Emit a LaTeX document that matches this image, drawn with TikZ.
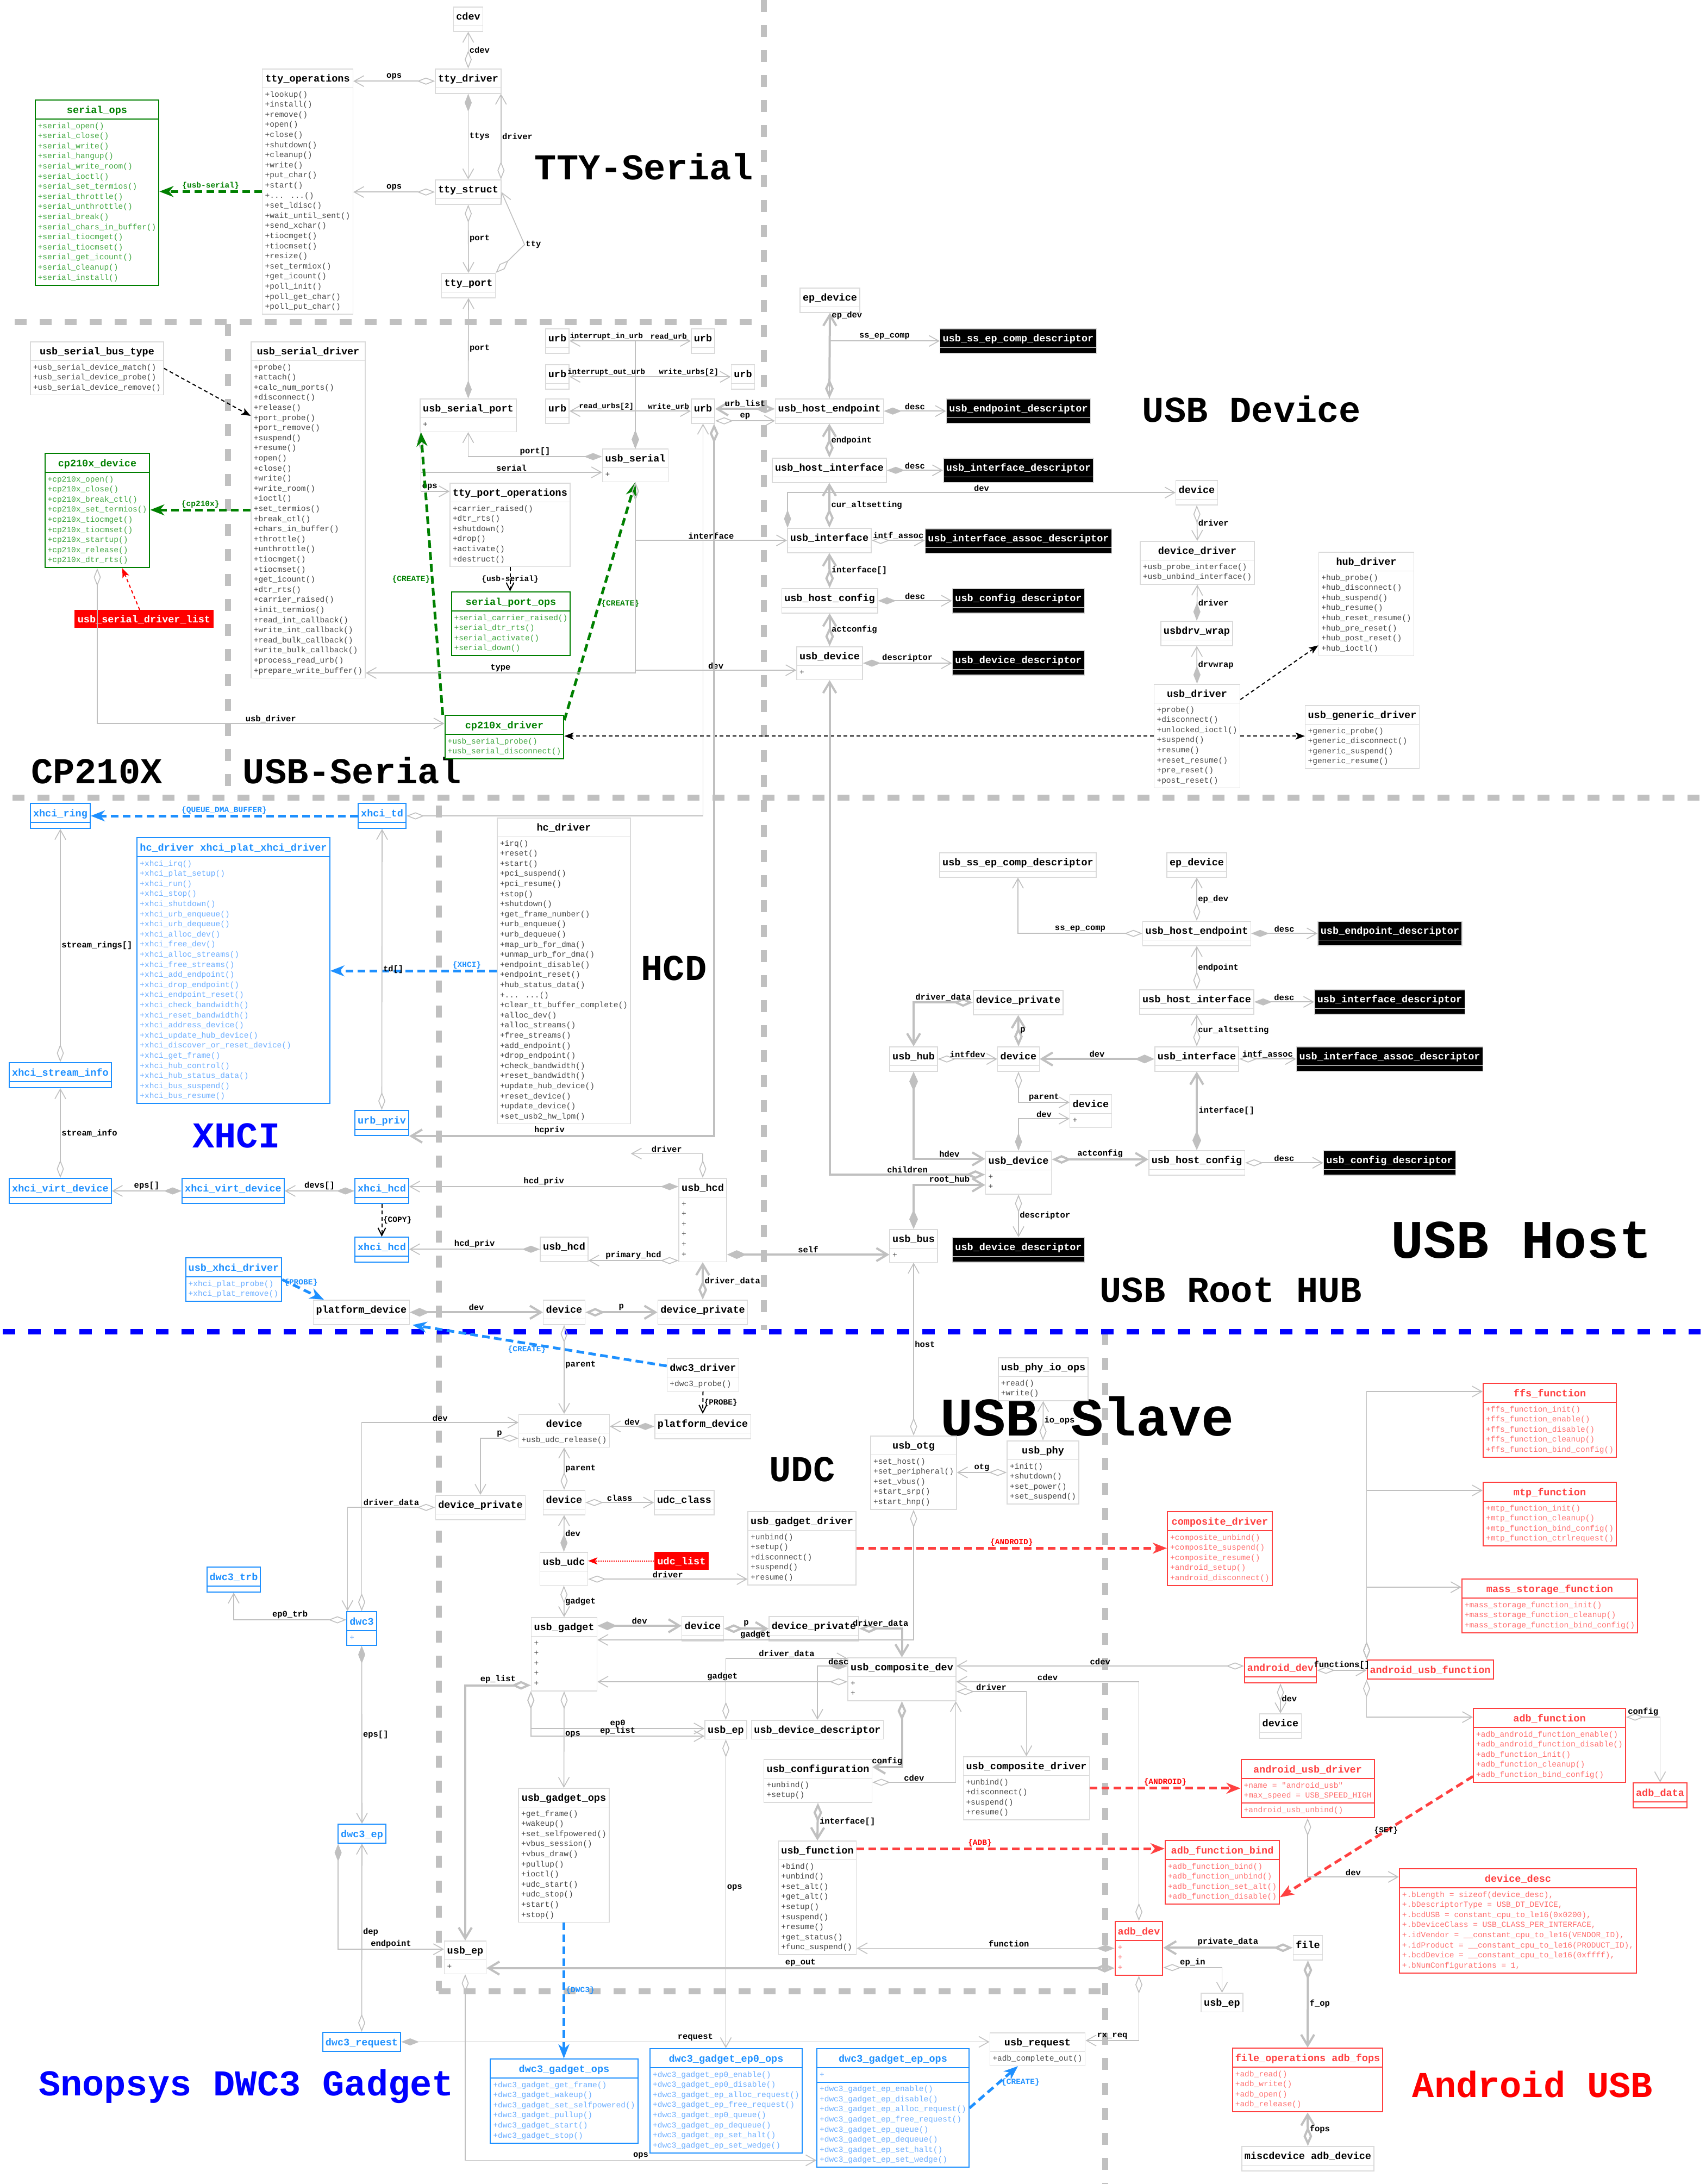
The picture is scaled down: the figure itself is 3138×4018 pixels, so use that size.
\documentclass[tikz,border=0pt]{standalone}
\usepackage{fontspec}
\usepackage{xcolor}
\usepackage{tikz}
\usetikzlibrary{shapes.multipart,arrows.meta,positioning}
\newfontfamily\cour{Liberation Mono}
\definecolor{edgec}{RGB}{192,192,192}
\definecolor{boxc}{RGB}{218,218,218}
\definecolor{memk}{RGB}{70,70,70}
\definecolor{grn}{RGB}{0,128,0}
\definecolor{memg}{RGB}{60,165,60}
\definecolor{dblue}{RGB}{30,144,255}
\definecolor{memb}{RGB}{110,175,255}
\definecolor{redc}{RGB}{255,64,64}
\definecolor{memr}{RGB}{255,110,110}
\newcommand{\ttl}[1]{{\fontsize{18.5}{22}\selectfont\bfseries\rule[-7pt]{0pt}{27pt}#1}}
\newcommand{\mem}[2][memk]{{\color{#1}\fontsize{14.5}{18.6}\selectfont\begin{tabular}{@{}l@{}}#2\end{tabular}}}
\newcommand{\emp}{\rule{0pt}{3pt}}
\tikzset{
  cls/.style={rectangle split, rectangle split parts=2, rectangle split part align={center,left}, draw=boxc, line width=1.5pt, fill=white, text=black, inner xsep=5pt, inner ysep=3pt, anchor=north, font=\cour},
  ttlonly/.style={rectangle split parts=1},
  threep/.style={rectangle split parts=3, rectangle split part align={center,left,left}},
  gbox/.style={draw=grn, text=grn, line width=2pt},
  bbox/.style={draw=dblue, text=dblue, line width=2pt},
  rbox/.style={draw=redc, text=redc, line width=2pt},
  dbox/.style={fill=black, text=white},
  rlist/.style={fill=red, text=white, anchor=north, inner xsep=6pt, inner ysep=3pt, font=\cour},
  lb/.style={font=\cour\bfseries\fontsize{15.5}{16}\selectfont, text=black, inner sep=1.5pt},
  lbs/.style={lb, font=\cour\bfseries\fontsize{14}{15}\selectfont},
  ster/.style={font=\cour\bfseries\fontsize{14.5}{15}\selectfont, text=black, inner sep=1.5pt},
  sterg/.style={ster, text=grn},
  sterb/.style={ster, text=dblue},
  sterr/.style={ster, text=red},
  bigttl/.style={font=\cour\bfseries\fontsize{67}{67}\selectfont, anchor=base, inner sep=0pt},
  hugettl/.style={bigttl, font=\cour\bfseries\fontsize{100}{100}\selectfont},
  ln/.style={draw=edgec, line width=1.6pt},
  tk/.style={draw=edgec, line width=4pt},
  ag/.style={ln, {Diamond[open,length=33pt,width=13pt]}-{Straight Barb[length=18pt,width=20pt]}},
  cp/.style={ln, {Diamond[length=33pt,width=13pt]}-{Straight Barb[length=18pt,width=20pt]}},
  agT/.style={tk, {Diamond[open,length=36pt,width=16pt]}-{Straight Barb[length=20pt,width=24pt]}},
  cpT/.style={tk, {Diamond[length=36pt,width=16pt]}-{Straight Barb[length=20pt,width=24pt]}},
  asc/.style={ln, -{Straight Barb[length=18pt,width=20pt]}},
  gdep/.style={draw=grn, line width=5pt, dash pattern=on 14pt off 8pt, -{Stealth[length=26pt,width=20pt,inset=8pt]}},
  bdep/.style={draw=dblue, line width=5pt, dash pattern=on 14pt off 8pt, -{Stealth[length=26pt,width=20pt,inset=8pt]}},
  rdep/.style={draw=redc, line width=5pt, dash pattern=on 14pt off 8pt, -{Stealth[length=26pt,width=20pt,inset=8pt]}},
  kdep/.style={draw=black, line width=2pt, dash pattern=on 7pt off 5pt, -{Stealth[length=17pt,width=13pt,inset=4pt]}},
  kdepv/.style={draw=black, line width=2pt, dash pattern=on 7pt off 5pt, -{Straight Barb[length=14pt,width=14pt]}},
  rthin/.style={draw=red, line width=2pt, dash pattern=on 6pt off 5pt, -{Stealth[length=17pt,width=13pt,inset=4pt]}},
  rdot/.style={draw=red, line width=2pt, dash pattern=on 2pt off 2pt, -{Stealth[length=17pt,width=13pt,inset=4pt]}},
  sepl/.style={draw=edgec, line width=11pt, dash pattern=on 22pt off 24pt},
  bsepl/.style={draw=blue, line width=10pt, dash pattern=on 23pt off 24pt}
}
\begin{document}
\catcode`\_=12
\begin{tikzpicture}[x=1pt,y=-1pt]
\useasboundingbox (0,0) rectangle (3138,4018);
\fill[white] (0,0) rectangle (3138,4018);

\draw[sepl] (27,592) -- (1403,592);
\draw[sepl] (1405,0) -- (1405,2447);
\draw[sepl] (419,596) -- (419,1460);
\draw[sepl] (23,1467) -- (3129,1467);
\draw[sepl] (807,1482) -- (807,3663);
\draw[sepl] (807,3663) -- (2026,3663);
\draw[sepl] (2033,2452) -- (2033,4018);
\draw[bsepl] (5,2450) -- (3129,2450);

\node[bigttl] (tttl) at (1185,330) {TTY-Serial};
\node[bigttl] (devttl) at (2303,776) {USB Device};
\node[bigttl] (cpttl) at (178,1441) {CP210X};
\node[bigttl] (usttl) at (648,1441) {USB-Serial};
\node[bigttl] (hcdttl) at (1240,1803) {HCD};
\node[bigttl, text=blue] (xttl) at (435,2111) {XHCI};
\node[hugettl] (hostttl) at (2800,2314) {USB Host};
\node[bigttl] (hubttl) at (2265,2395) {USB Root HUB};
\node[hugettl] (slvttl) at (2001,2641) {USB Slave};
\node[bigttl] (udcttl) at (1476,2725) {UDC};
\node[bigttl, text=blue] (dwcttl) at (453,3855) {Snopsys DWC3 Gadget};
\node[bigttl, text=red] (andttl) at (2820,3858) {Android USB};

\node[cls] (cdev) at (861.5,12) {\ttl{cdev}\nodepart{two}\emp};
\node[cls] (ttydrv) at (861.5,126) {\ttl{tty_driver}\nodepart{two}\emp};
\node[cls] (ttyops) at (566,126) {\ttl{tty_operations}\nodepart{two}\mem{+lookup()\\+install()\\+remove()\\+open()\\+close()\\+shutdown()\\+cleanup()\\+write()\\+put_char()\\+start()\\+... ...()\\+set_ldisc()\\+wait_until_sent()\\+send_xchar()\\+tiocmget()\\+tiocmset()\\+resize()\\+set_termiox()\\+get_icount()\\+poll_init()\\+poll_get_char()\\+poll_put_char()}};
\node[cls,gbox] (serops) at (178.5,183) {\ttl{serial_ops}\nodepart{two}\mem[memg]{+serial_open()\\+serial_close()\\+serial_write()\\+serial_hangup()\\+serial_write_room()\\+serial_ioctl()\\+serial_set_termios()\\+serial_throttle()\\+serial_unthrottle()\\+serial_break()\\+serial_chars_in_buffer()\\+serial_tiocmget()\\+serial_tiocmset()\\+serial_get_icount()\\+serial_cleanup()\\+serial_install()}};
\node[cls] (ttystr) at (861.5,330) {\ttl{tty_struct}\nodepart{two}\emp};
\node[cls] (ttyport) at (862,502) {\ttl{tty_port}\nodepart{two}\emp};
\node[cls] (busty) at (178.5,628) {\ttl{usb_serial_bus_type}\nodepart{two}\mem{+usb_serial_device_match()\\+usb_serial_device_probe()\\+usb_serial_device_remove()}};
\node[cls] (usdrv) at (567,628) {\ttl{usb_serial_driver}\nodepart{two}\mem{+probe()\\+attach()\\+calc_num_ports()\\+disconnect()\\+release()\\+port_probe()\\+port_remove()\\+suspend()\\+resume()\\+open()\\+close()\\+write()\\+write_room()\\+ioctl()\\+set_termios()\\+break_ctl()\\+chars_in_buffer()\\+throttle()\\+unthrottle()\\+tiocmget()\\+tiocmset()\\+get_icount()\\+dtr_rts()\\+carrier_raised()\\+init_termios()\\+read_int_callback()\\+write_int_callback()\\+read_bulk_callback()\\+write_bulk_callback()\\+process_read_urb()\\+prepare_write_buffer()}};
\node[cls] (usport) at (861.5,733) {\ttl{usb_serial_port}\nodepart{two}\mem{+}};
\node[cls] (tpops) at (938.5,888) {\ttl{tty_port_operations}\nodepart{two}\mem{+carrier_raised()\\+dtr_rts()\\+shutdown()\\+drop()\\+activate()\\+destruct()}};
\node[cls,gbox] (spops) at (940,1088) {\ttl{serial_port_ops}\nodepart{two}\mem[memg]{+serial_carrier_raised()\\+serial_dtr_rts()\\+serial_activate()\\+serial_down()}};
\node[cls,gbox] (cpdev) at (179,833) {\ttl{cp210x_device}\nodepart{two}\mem[memg]{+cp210x_open()\\+cp210x_close()\\+cp210x_break_ctl()\\+cp210x_set_termios()\\+cp210x_tiocmget()\\+cp210x_tiocmset()\\+cp210x_startup()\\+cp210x_release()\\+cp210x_dtr_rts()}};
\node[rlist] (sdlist) at (265,1122) {\ttl{usb_serial_driver_list}};
\node[cls,gbox] (cpdrv) at (928,1315) {\ttl{cp210x_driver}\nodepart{two}\mem[memg]{+usb_serial_probe()\\+usb_serial_disconnect()}};
\node[cls] (userial) at (1169,825) {\ttl{usb_serial}\nodepart{two}\mem{+}};
\node[cls] (urbL1) at (1025.5,604) {\ttl{urb}\nodepart{two}\emp};
\node[cls] (urbL2) at (1025.5,670) {\ttl{urb}\nodepart{two}\emp};
\node[cls] (urbL3) at (1025.5,733) {\ttl{urb}\nodepart{two}\emp};
\node[cls] (urbA) at (1293.5,604) {\ttl{urb}\nodepart{two}\emp};
\node[cls] (urbB) at (1367,670) {\ttl{urb}\nodepart{two}\emp};
\node[cls] (urbC) at (1293.5,733) {\ttl{urb}\nodepart{two}\emp};

\node[cls] (epdevD) at (1527,529) {\ttl{ep_device}\nodepart{two}\emp};
\node[cls,dbox] (sscD) at (1873.5,604) {\ttl{usb_ss_ep_comp_descriptor}\nodepart{two}\emp};
\node[cls] (hepD) at (1526,733) {\ttl{usb_host_endpoint}\nodepart{two}\emp};
\node[cls,dbox] (epdD) at (1874,733) {\ttl{usb_endpoint_descriptor}\nodepart{two}\emp};
\node[cls] (hifD) at (1526,842) {\ttl{usb_host_interface}\nodepart{two}\emp};
\node[cls,dbox] (ifdD) at (1874,842) {\ttl{usb_interface_descriptor}\nodepart{two}\emp};
\node[cls] (devD) at (2202,883) {\ttl{device}\nodepart{two}\emp};
\node[cls] (ifD) at (1526,971) {\ttl{usb_interface}\nodepart{two}\emp};
\node[cls,dbox] (iadD) at (1874,972) {\ttl{usb_interface_assoc_descriptor}\nodepart{two}\emp};
\node[cls] (ddrv) at (2203,995) {\ttl{device_driver}\nodepart{two}\mem{+usb_probe_interface()\\+usb_unbind_interface()}};
\node[cls] (hcfgD) at (1526.5,1082) {\ttl{usb_host_config}\nodepart{two}\emp};
\node[cls,dbox] (cfgdD) at (1874,1082) {\ttl{usb_config_descriptor}\nodepart{two}\emp};
\node[cls] (hubdrv) at (2514,1015) {\ttl{hub_driver}\nodepart{two}\mem{+hub_probe()\\+hub_disconnect()\\+hub_suspend()\\+hub_resume()\\+hub_reset_resume()\\+hub_pre_reset()\\+hub_post_reset()\\+hub_ioctl()}};
\node[cls] (wrap) at (2202,1142) {\ttl{usbdrv_wrap}\nodepart{two}\emp};
\node[cls] (udevD) at (1526.5,1189) {\ttl{usb_device}\nodepart{two}\mem{+}};
\node[cls,dbox] (devdD) at (1874,1196) {\ttl{usb_device_descriptor}\nodepart{two}\emp};
\node[cls] (udrv) at (2202.5,1258) {\ttl{usb_driver}\nodepart{two}\mem{+probe()\\+disconnect()\\+unlocked_ioctl()\\+suspend()\\+resume()\\+reset_resume()\\+pre_reset()\\+post_reset()}};
\node[cls] (gendrv) at (2506.5,1297) {\ttl{usb_generic_driver}\nodepart{two}\mem{+generic_probe()\\+generic_disconnect()\\+generic_suspend()\\+generic_resume()}};

\node[cls,bbox] (xring) at (111,1477) {\ttl{xhci_ring}\nodepart{two}\emp};
\node[cls,bbox] (xtd) at (703,1477) {\ttl{xhci_td}\nodepart{two}\emp};
\node[cls,bbox] (xplat) at (429.5,1540) {\ttl{hc_driver xhci_plat_xhci_driver}\nodepart{two}\mem[memb]{+xhci_irq()\\+xhci_plat_setup()\\+xhci_run()\\+xhci_stop()\\+xhci_shutdown()\\+xhci_urb_enqueue()\\+xhci_urb_dequeue()\\+xhci_alloc_dev()\\+xhci_free_dev()\\+xhci_alloc_streams()\\+xhci_free_streams()\\+xhci_add_endpoint()\\+xhci_drop_endpoint()\\+xhci_endpoint_reset()\\+xhci_check_bandwidth()\\+xhci_reset_bandwidth()\\+xhci_address_device()\\+xhci_update_hub_device()\\+xhci_discover_or_reset_device()\\+xhci_get_frame()\\+xhci_hub_control()\\+xhci_hub_status_data()\\+xhci_bus_suspend()\\+xhci_bus_resume()}};
\node[cls] (hcdrv) at (1037.5,1504) {\ttl{hc_driver}\nodepart{two}\mem{+irq()\\+reset()\\+start()\\+pci_suspend()\\+pci_resume()\\+stop()\\+shutdown()\\+get_frame_number()\\+urb_enqueue()\\+urb_dequeue()\\+map_urb_for_dma()\\+unmap_urb_for_dma()\\+endpoint_disable()\\+endpoint_reset()\\+hub_status_data()\\+... ...()\\+clear_tt_buffer_complete()\\+alloc_dev()\\+alloc_streams()\\+free_streams()\\+add_endpoint()\\+drop_endpoint()\\+check_bandwidth()\\+reset_bandwidth()\\+update_hub_device()\\+reset_device()\\+update_device()\\+set_usb2_hw_lpm()}};
\node[cls,bbox] (xsinfo) at (111,1954) {\ttl{xhci_stream_info}\nodepart{two}\emp};
\node[cls,bbox] (urbpriv) at (702.5,2042) {\ttl{urb_priv}\nodepart{two}\emp};
\node[cls,bbox] (xvdev1) at (111,2167) {\ttl{xhci_virt_device}\nodepart{two}\emp};
\node[cls,bbox] (xvdev2) at (429,2167) {\ttl{xhci_virt_device}\nodepart{two}\emp};
\node[cls,bbox] (xhcd1) at (702.5,2167) {\ttl{xhci_hcd}\nodepart{two}\emp};
\node[cls,bbox] (xhcd2) at (702.5,2275) {\ttl{xhci_hcd}\nodepart{two}\emp};
\node[cls] (uhcd) at (1293,2167) {\ttl{usb_hcd}\nodepart{two}\mem{+\\+\\+\\+\\+\\+}};
\node[cls] (uhcd2) at (1038,2275) {\ttl{usb_hcd}\nodepart{two}\emp};
\node[cls,bbox] (uxdrv) at (430,2313) {\ttl{usb_xhci_driver}\nodepart{two}\mem[memb]{+xhci_plat_probe()\\+xhci_plat_remove()}};
\node[cls] (pdevH) at (665,2391) {\ttl{platform_device}\nodepart{two}\emp};
\node[cls] (devH) at (1038,2391) {\ttl{device}\nodepart{two}\emp};
\node[cls] (dprivH) at (1293,2391) {\ttl{device_private}\nodepart{two}\emp};

\node[cls] (sscH) at (1873,1568) {\ttl{usb_ss_ep_comp_descriptor}\nodepart{two}\emp};
\node[cls] (epdevH) at (2202,1568) {\ttl{ep_device}\nodepart{two}\emp};
\node[cls] (hepH) at (2202,1694) {\ttl{usb_host_endpoint}\nodepart{two}\emp};
\node[cls,dbox] (epdH) at (2557.5,1694) {\ttl{usb_endpoint_descriptor}\nodepart{two}\emp};
\node[cls] (dprivR) at (1873.5,1821) {\ttl{device_private}\nodepart{two}\emp};
\node[cls] (hifH) at (2202,1820) {\ttl{usb_host_interface}\nodepart{two}\emp};
\node[cls,dbox] (ifdH) at (2557,1820) {\ttl{usb_interface_descriptor}\nodepart{two}\emp};
\node[cls] (uhub) at (1681,1925) {\ttl{usb_hub}\nodepart{two}\emp};
\node[cls] (devR) at (1874,1925) {\ttl{device}\nodepart{two}\emp};
\node[cls] (ifH) at (2202,1925) {\ttl{usb_interface}\nodepart{two}\emp};
\node[cls,dbox] (iadH) at (2557,1925) {\ttl{usb_interface_assoc_descriptor}\nodepart{two}\emp};
\node[cls] (devS) at (2007,2013) {\ttl{device}\nodepart{two}\mem{+}};
\node[cls] (udevH) at (1874,2117) {\ttl{usb_device}\nodepart{two}\mem{+\\+}};
\node[cls] (hcfgH) at (2202,2116) {\ttl{usb_host_config}\nodepart{two}\emp};
\node[cls,dbox] (cfgdH) at (2557,2116) {\ttl{usb_config_descriptor}\nodepart{two}\emp};
\node[cls] (ubus) at (1681,2261) {\ttl{usb_bus}\nodepart{two}\mem{+}};
\node[cls,dbox] (devdH) at (1874,2276) {\ttl{usb_device_descriptor}\nodepart{two}\emp};

\node[cls] (dwcdrv) at (1293.5,2498) {\ttl{dwc3_driver}\nodepart{two}\mem{+dwc3_probe()}};
\node[cls] (devU) at (1038,2601) {\ttl{device}\nodepart{two}\mem{+usb_udc_release()}};
\node[cls] (pdevU) at (1293,2601) {\ttl{platform_device}\nodepart{two}\emp};
\node[cls] (phyio) at (1919.5,2497) {\ttl{usb_phy_io_ops}\nodepart{two}\mem{+read()\\+write()}};
\node[cls] (uotg) at (1681,2641) {\ttl{usb_otg}\nodepart{two}\mem{+set_host()\\+set_peripheral()\\+set_vbus()\\+start_srp()\\+start_hnp()}};
\node[cls] (uphy) at (1919,2650) {\ttl{usb_phy}\nodepart{two}\mem{+init()\\+shutdown()\\+set_power()\\+set_suspend()}};
\node[cls] (devC) at (1038,2741) {\ttl{device}\nodepart{two}\emp};
\node[cls] (udccls) at (1259,2741) {\ttl{udc_class}\nodepart{two}\emp};
\node[cls] (dprivU) at (884,2750) {\ttl{device_private}\nodepart{two}\emp};
\node[cls] (gdrv) at (1475.5,2780) {\ttl{usb_gadget_driver}\nodepart{two}\mem{+unbind()\\+setup()\\+disconnect()\\+suspend()\\+resume()}};
\node[cls,rbox] (compdrv) at (2244.5,2780) {\ttl{composite_driver}\nodepart{two}\mem[memr]{+composite_unbind()\\+composite_suspend()\\+composite_resume()\\+android_setup()\\+android_disconnect()}};
\node[cls] (uudc) at (1037.5,2855) {\ttl{usb_udc}\nodepart{two}\mem{~}};
\node[rlist] (udclist) at (1254,2855) {\ttl{udc_list}};
\node[cls,bbox] (dtrb) at (430,2882) {\ttl{dwc3_trb}\nodepart{two}\emp};
\node[cls,bbox] (dwc) at (665.5,2964) {\ttl{dwc3}\nodepart{two}\mem[memb]{+}};
\node[cls] (ugad) at (1038,2975) {\ttl{usb_gadget}\nodepart{two}\mem{+\\+\\+\\+\\+}};
\node[cls] (devG) at (1293,2973) {\ttl{device}\nodepart{two}\emp};
\node[cls] (dprivG) at (1497.5,2973) {\ttl{device_private}\nodepart{two}\emp};
\node[cls] (ucdev) at (1659.5,3049) {\ttl{usb_composite_dev}\nodepart{two}\mem{+\\+}};
\node[cls,rbox] (adev) at (2356,3049) {\ttl{android_dev}\nodepart{two}\emp};
\node[cls,rbox,ttlonly] (aufn) at (2631.5,3053) {\ttl{android_usb_function}};
\node[cls,rbox] (ffs) at (2851.5,2544) {\ttl{ffs_function}\nodepart{two}\mem[memr]{+ffs_function_init()\\+ffs_function_enable()\\+ffs_function_disable()\\+ffs_function_cleanup()\\+ffs_function_bind_config()}};
\node[cls,rbox] (mtp) at (2851.5,2726) {\ttl{mtp_function}\nodepart{two}\mem[memr]{+mtp_function_init()\\+mtp_function_cleanup()\\+mtp_function_bind_config()\\+mtp_function_ctrlrequest()}};
\node[cls,rbox] (msf) at (2851.5,2904) {\ttl{mass_storage_function}\nodepart{two}\mem[memr]{+mass_storage_function_init()\\+mass_storage_function_cleanup()\\+mass_storage_function_bind_config()}};
\node[cls] (devA) at (2356,3152) {\ttl{device}\nodepart{two}\emp};
\node[cls,rbox] (adbfn) at (2851,3142) {\ttl{adb_function}\nodepart{two}\mem[memr]{+adb_android_function_enable()\\+adb_android_function_disable()\\+adb_function_init()\\+adb_function_cleanup()\\+adb_function_bind_config()}};
\node[cls,rbox] (adbdata) at (3054.5,3279) {\ttl{adb_data}\nodepart{two}\emp};
\node[cls,ttlonly] (uepG) at (1335.5,3164) {\ttl{usb_ep}};
\node[cls,ttlonly] (devdG) at (1504,3164) {\ttl{usb_device_descriptor}};
\node[cls] (ucfg) at (1505,3236) {\ttl{usb_configuration}\nodepart{two}\mem{+unbind()\\+setup()}};
\node[cls] (ucdrv) at (1888.5,3231) {\ttl{usb_composite_driver}\nodepart{two}\mem{+unbind()\\+disconnect()\\+suspend()\\+resume()}};
\node[cls,rbox,threep] (audrv) at (2406,3236) {\ttl{android_usb_driver}\nodepart{two}\mem[memr]{+name = "android_usb"\\+max_speed = USB_SPEED_HIGH}\nodepart{three}\mem[memr]{+android_usb_unbind()}};
\node[cls] (gops) at (1037.5,3289) {\ttl{usb_gadget_ops}\nodepart{two}\mem{+get_frame()\\+wakeup()\\+set_selfpowered()\\+vbus_session()\\+vbus_draw()\\+pullup()\\+ioctl()\\+udc_start()\\+udc_stop()\\+start()\\+stop()}};
\node[cls,bbox,ttlonly] (dep) at (666,3355) {\ttl{dwc3_ep}};
\node[cls] (ufn) at (1504,3386) {\ttl{usb_function}\nodepart{two}\mem{+bind()\\+unbind()\\+set_alt()\\+get_alt()\\+setup()\\+suspend()\\+resume()\\+get_status()\\+func_suspend()}};
\node[cls,rbox] (afbind) at (2249,3385) {\ttl{adb_function_bind}\nodepart{two}\mem[memr]{+adb_function_bind()\\+adb_function_unbind()\\+adb_function_set_alt()\\+adb_function_disable()}};
\node[cls,rbox] (ddesc) at (2793,3437) {\ttl{device_desc}\nodepart{two}\mem[memr]{+.bLength = sizeof(device_desc),\\+.bDescriptorType = USB_DT_DEVICE,\\+.bcdUSB = constant_cpu_to_le16(0x0200),\\+.bDeviceClass = USB_CLASS_PER_INTERFACE,\\+.idVendor = __constant_cpu_to_le16(VENDOR_ID),\\+.idProduct = __constant_cpu_to_le16(PRODUCT_ID),\\+.bcdDevice = __constant_cpu_to_le16(0xffff),\\+.bNumConfigurations = 1,}};
\node[cls,rbox] (adbdev) at (2095.5,3534) {\ttl{adb_dev}\nodepart{two}\mem[memr]{+\\+\\+}};
\node[cls] (file) at (2406.5,3560) {\ttl{file}\nodepart{two}\emp};
\node[cls] (uep) at (856,3570) {\ttl{usb_ep}\nodepart{two}\mem{+}};
\node[cls,ttlonly] (uepA) at (2248.5,3666) {\ttl{usb_ep}};
\node[cls,bbox,ttlonly] (dreq) at (665.5,3738) {\ttl{dwc3_request}};
\node[cls] (ureq) at (1909,3739) {\ttl{usb_request}\nodepart{two}\mem{+adb_complete_out()}};
\node[cls,rbox] (fops) at (2406,3767) {\ttl{file_operations adb_fops}\nodepart{two}\mem[memr]{+adb_read()\\+adb_write()\\+adb_open()\\+adb_release()}};
\node[cls,bbox] (dgops) at (1038,3787) {\ttl{dwc3_gadget_ops}\nodepart{two}\mem[memb]{+dwc3_gadget_get_frame()\\+dwc3_gadget_wakeup()\\+dwc3_gadget_set_selfpowered()\\+dwc3_gadget_pullup()\\+dwc3_gadget_start()\\+dwc3_gadget_stop()}};
\node[cls,bbox] (dep0ops) at (1336,3768) {\ttl{dwc3_gadget_ep0_ops}\nodepart{two}\mem[memb]{+dwc3_gadget_ep0_enable()\\+dwc3_gadget_ep0_disable()\\+dwc3_gadget_ep_alloc_request()\\+dwc3_gadget_ep_free_request()\\+dwc3_gadget_ep0_queue()\\+dwc3_gadget_ep_dequeue()\\+dwc3_gadget_ep_set_halt()\\+dwc3_gadget_ep_set_wedge()}};
\node[cls,bbox,threep] (depops) at (1643,3768) {\ttl{dwc3_gadget_ep_ops}\nodepart{two}\mem[memb]{+}\nodepart{three}\mem[memb]{+dwc3_gadget_ep_enable()\\+dwc3_gadget_ep_disable()\\+dwc3_gadget_ep_alloc_request()\\+dwc3_gadget_ep_free_request()\\+dwc3_gadget_ep_queue()\\+dwc3_gadget_ep_dequeue()\\+dwc3_gadget_ep_set_halt()\\+dwc3_gadget_ep_set_wedge()}};
\node[cls] (misc) at (2406.5,3948) {\ttl{miscdevice adb_device}\nodepart{two}\emp};

\draw[ag] (ttydrv.north) -- (cdev.south) node[lb,right,midway] {cdev};
\draw[ag] (ttydrv.west) -- (ttydrv.west -| ttyops.east) node[lb,above,midway] {ops};
\draw[ag] (ttystr.west) -- (ttystr.west -| ttyops.east) node[lb,above,midway] {ops};
\draw[cp] (ttydrv.south) -- (ttystr.north) node[lb,right,midway] {ttys};
\draw[ag] ([xshift=-1pt]ttystr.north east) -- ([xshift=-1pt]ttydrv.south east) node[lb,right,midway] {driver};
\draw[ag] (ttystr.south) -- (ttyport.north) node[lb,right,midway] {port};
\draw[ag] (ttyport.north east) -- ++(53,-52) node[lb,right] {tty} -- (ttystr.east);
\draw[gdep] (ttyops.west) -- (ttyops.west -| serops.east) node[sterg,above,midway] {\{usb-serial\}};

\draw[kdep] (busty.east) -- ([yshift=-137pt]usdrv.north west);
\draw[gdep] (usdrv.west) -- (usdrv.west -| cpdev.east) node[sterg,above,midway] {\{cp210x\}};
\draw[cp] (usport.north) -- (ttyport.south) node[lb,right,midway] {port};
\draw[cp] ([yshift=-15pt]userial.north west) -| (usport.south) node[lb,above,pos=0.25] {port[]};
\draw[ag] ([xshift=2pt]usport.south west) |- ([yshift=-44pt]userial.north west) node[lb,above,pos=0.75] {serial};
\draw[ag] ([xshift=2pt]usport.south west) |- ([yshift=-16pt]tpops.north west) node[lb,above right,pos=0.5] {ops};
\draw[kdepv] (tpops.south) -- (tpops.south |- spops.north) node[ster,midway] {\{usb-serial\}};
\draw[ag] (cpdev.south) |- ([yshift=-16pt]cpdrv.north west) node[lb,above,pos=0.75] {usb_driver};
\draw[rthin] ([xshift=-8pt]sdlist.north) -- ([xshift=46pt]cpdev.south);
\draw[gdep] ([xshift=-3pt]cpdrv.north west) -- ([xshift=2pt]usport.south west) node[sterg,left,pos=0.48] {\{CREATE\}};
\draw[gdep] ([yshift=-10pt]cpdrv.north east) -- (userial.south) node[sterg,right,pos=0.49] {\{CREATE\}};
\draw[cp] (userial.north) |- (urbL1.east) node[lbs,above,pos=0.72] {interrupt_in_urb};
\draw[cp] (userial.north) |- (urbA.west) node[lbs,above,pos=0.8] {read_urb};
\draw[cp] (userial.north) |- (urbL2.east) node[lbs,above,pos=0.72] {interrupt_out_urb};
\draw[cp] (userial.north) |- (urbB.west) node[lbs,above,pos=0.78] {write_urbs[2]};
\draw[cp] (userial.north) |- (urbL3.east) node[lbs,above,pos=0.72] {read_urbs[2]};
\draw[cp] (userial.north) |- (urbC.west) node[lbs,above,pos=0.8] {write_urb};

\draw[agT] ([yshift=4pt]hepD.west) -- ([yshift=4pt]hepD.west -| urbC.east) node[lb,above,midway] {urb_list};
\draw[ag] ([yshift=-18pt]urbC.east) -- ([yshift=-18pt]urbC.east -| hepD.west) node[lb,above,midway] {ep};
\draw[agT] (hepD.north) -- (epdevD.south) node[lb,right,pos=0.97] {ep_dev};
\draw[asc] (hepD.north) |- (sscD.west) node[lb,above,pos=0.75] {ss_ep_comp};
\draw[cp] (hepD.east) -- (hepD.east -| epdD.west) node[lb,above,midway] {desc};
\draw[agT] (hifD.north) -- (hepD.south) node[lb,right,midway] {endpoint};
\draw[cp] (hifD.east) -- (hifD.east -| ifdD.west) node[lb,above,midway] {desc};
\draw[agT] (ifD.north) -- (hifD.south) node[lb,right,midway] {cur_altsetting};
\draw[cp] ([xshift=1pt]ifD.north west) |- (devD.west) node[lb,above,pos=0.75] {dev};
\draw[ag] (ifD.east) -- (ifD.east -| iadD.west) node[lb,above,midway] {intf_assoc};
\draw[ag] (userial.south) |- (ifD.west) node[lb,above,pos=0.75] {interface};
\draw[ag] (userial.south) |- ([yshift=-44pt]udevD.north west) node[lb,above,pos=0.75] {dev};
\draw[ag] (userial.south) |- ([yshift=10pt]usdrv.south east) node[lb,above,pos=0.75] {type};
\draw[agT] (hcfgD.north) -- (ifD.south) node[lb,right,midway] {interface[]};
\draw[cp] (hcfgD.east) -- (hcfgD.east -| cfgdD.west) node[lb,above,midway] {desc};
\draw[agT] (udevD.north) -- (hcfgD.south) node[lb,right,midway] {actconfig};
\draw[cp] (udevD.east) -- (udevD.east -| devdD.west) node[lb,above,midway] {descriptor};
\draw[ag] (devD.south) -- (ddrv.north) node[lb,right,midway] {driver};
\draw[cp] (wrap.north) -- (ddrv.south) node[lb,right,midway] {driver};
\draw[cp] (udrv.north) -- (wrap.south) node[lb,right,midway] {drvwrap};
\draw[kdep] ([yshift=-29pt]udrv.north east) -- ([yshift=20pt]hubdrv.south west);
\draw[kdep] (udrv.east) -- (udrv.east -| gendrv.west);
\draw[kdep] (udrv.west) -- (udrv.west -| cpdrv.east);

\draw[ag] (xtd.east) -| (urbC.south);
\draw[agT] ([xshift=-2pt]urbC.south east) |- (urbpriv.south east) node[lb,above,pos=0.77] {hcpriv};
\draw[bdep] (xtd.west) -- (xtd.west -| xring.east) node[sterb,above,midway] {\{QUEUE_DMA_BUFFER\}};
\draw[bdep] (hcdrv.west) -- (hcdrv.west -| xplat.east) node[sterb,above,pos=0.18] {\{XHCI\}};
\draw[ag] (urbpriv.north) -- (xtd.south) node[lb,right,midway] {td[]};
\draw[ag] (xsinfo.north) -- (xring.south) node[lb,right,midway] {stream_rings[]};
\draw[ag] (xvdev1.north) -- (xsinfo.south) node[lb,right,midway] {stream_info};
\draw[cp] (xvdev2.west) -- (xvdev2.west -| xvdev1.east) node[lb,above,midway] {eps[]};
\draw[cp] (xhcd1.west) -- (xhcd1.west -| xvdev2.east) node[lb,above,midway] {devs[]};
\draw[cp] ([yshift=-16pt]uhcd.north west) -- ([yshift=-16pt]uhcd.north west -| xhcd1.east) node[lb,above,midway] {hcd_priv};
\draw[kdepv] (xhcd1.south) -- (xhcd2.north) node[ster,right,midway] {\{COPY\}};
\draw[cp] (uhcd2.west) -- (uhcd2.west -| xhcd2.east) node[lb,above,midway] {hcd_priv};
\draw[ag] ([yshift=3pt]uhcd.south west) -- ([yshift=3pt]uhcd.south west -| uhcd2.east) node[lb,above,midway] {primary_hcd};
\draw[ag] (uhcd.north) |- ([yshift=-54pt]hcdrv.south east) node[lb,above,pos=0.75] {driver};
\draw[bdep] (uxdrv.east) -- ([xshift=20pt]pdevH.north west) node[sterb,above,pos=0.45] {\{PROBE\}};
\draw[cpT] (pdevH.east) -- (pdevH.east -| devH.west) node[lb,above,midway] {dev};
\draw[agT] (devH.east) -- (devH.east -| dprivH.west) node[lb,above,midway] {p};
\draw[agT] (dprivH.north) -- (uhcd.south) node[lb,right,midway] {driver_data};
\draw[cpT] ([yshift=14pt]uhcd.south east) -- ([yshift=14pt]uhcd.south east -| ubus.west) node[lb,above,midway] {self};

\draw[cpT] (ubus.north) |- ([yshift=-63pt]udevH.north west) node[lb,above,pos=0.75] {root_hub};
\draw[cpT] (uhub.south) |- ([yshift=-15pt]udevH.north west) node[lb,above,pos=0.75] {hdev};
\draw[agT] ([yshift=-44pt]udevH.north west) -| (udevD.south) node[lb,above,pos=0.25] {children};
\draw[ag] (devR.south) |- ([yshift=-15pt]devS.north west) node[lb,above,pos=0.75] {parent};
\draw[cp] (udevH.north) |- ([yshift=-45pt]devS.north west) node[lb,above,pos=0.75] {dev};
\draw[ag] (udevH.south) -- (devdH.north) node[lb,right,midway] {descriptor};
\draw[agT] ([yshift=-16pt]udevH.north east) -- ([yshift=-16pt]udevH.north east -| hcfgH.west) node[lb,above,midway] {actconfig};
\draw[ag] (hcfgH.east) -- (hcfgH.east -| cfgdH.west) node[lb,above,midway] {desc};
\draw[cpT] (hcfgH.north) -- (ifH.south) node[lb,right,midway] {interface[]};
\draw[ag] (ifH.north) -- (hifH.south) node[lb,right,midway] {cur_altsetting};
\draw[ag] (ifH.east) -- (ifH.east -| iadH.west) node[lb,above,midway] {intf_assoc};
\draw[cpT] (ifH.west) -- (ifH.west -| devR.east) node[lb,above,midway] {dev};
\draw[ag] (hifH.north) -- (hepH.south) node[lb,right,midway] {endpoint};
\draw[cp] (hifH.east) -- (hifH.east -| ifdH.west) node[lb,above,midway] {desc};
\draw[ag] (hepH.north) -- (epdevH.south) node[lb,right,midway] {ep_dev};
\draw[cp] (hepH.east) -- (hepH.east -| epdH.west) node[lb,above,midway] {desc};
\draw[ag] (hepH.west) -| (sscH.south) node[lb,above,pos=0.25] {ss_ep_comp};
\draw[ag] (uhub.east) -- (uhub.east -| devR.west) node[lb,above,midway] {intfdev};
\draw[agT] (devR.north) -- (dprivR.south) node[lb,right,midway] {p};
\draw[agT] (dprivR.west) -| (uhub.north) node[lb,above,pos=0.25] {driver_data};
\draw[ag] (uotg.north) -- (ubus.south) node[lb,right,pos=0.53] {host};

\draw[bdep] ([yshift=-15pt]dwcdrv.north west) -- ([xshift=5pt]pdevH.south east) node[sterb,below,pos=0.55] {\{CREATE\}};
\draw[kdepv] (dwcdrv.south) -- (pdevU.north) node[ster,right,midway] {\{PROBE\}};
\draw[cp] (pdevU.west) -- (pdevU.west -| devU.east) node[lb,above,midway] {dev};
\draw[ag] (devH.south) -- (devU.north) node[lb,right,pos=0.45] {parent};
\draw[ag] (dwc.north) |- ([yshift=-16pt]devU.north west) node[lb,above,pos=0.75] {dev};
\draw[ag] ([yshift=-45pt]devU.north west) -| (dprivU.north) node[lb,above,pos=0.25] {p};
\draw[ag] (dprivU.west) -| ([xshift=2pt]dwc.north west) node[lb,above,pos=0.25] {driver_data};
\draw[ag] (devC.north) -- (devU.south) node[lb,right,midway] {parent};
\draw[ag] (devC.east) -- (devC.east -| udccls.west) node[lb,above,midway] {class};
\draw[cp] (uudc.north) -- (devC.south) node[lb,right,midway] {dev};
\draw[rdot] (udclist.west) -- (udclist.west -| uudc.east);
\draw[ag] ([yshift=12pt]uudc.south east) -- ([yshift=12pt]uudc.south east -| gdrv.west) node[lb,above,midway] {driver};
\draw[rdep] (gdrv.east) -- (gdrv.east -| compdrv.west) node[sterr,above,midway] {\{ANDROID\}};
\draw[ag] (uudc.south) -- (ugad.north) node[lb,right,midway] {gadget};
\draw[cpT] ([yshift=-16pt]ugad.north east) -- ([yshift=-16pt]ugad.north east -| devG.west) node[lb,above,midway] {dev};
\draw[agT] (devG.east) -- (devG.east -| dprivG.west) node[lb,above,midway] {p};
\draw[agT] (dprivG.east) -| (ucdev.north) node[lb,above,pos=0.25] {driver_data};
\draw[ag] (uotg.south) |- ([yshift=-42pt]ugad.north east) node[lb,above,pos=0.75] {gadget};
\draw[ag] (uphy.west) -- (uphy.west -| uotg.east) node[lb,above,midway] {otg};
\draw[ag] (uphy.north) -- (phyio.south) node[lb,right,midway] {io_ops};

\draw[ag] ([yshift=-45pt]ucdev.north west) -- ([yshift=-45pt]ucdev.north west -| ugad.east) node[lb,above,midway] {gadget};
\draw[ag] (uepG.north) |- ([yshift=-2pt]ucdev.north west) node[lb,above,pos=0.75] {driver_data};
\draw[cp] ([yshift=-16pt]ucdev.north west) -| (devdG.north) node[lb,above,pos=0.15] {desc};
\draw[ag] ([yshift=-16pt]adev.north west) -- ([yshift=-16pt]adev.north west -| ucdev.east) node[lb,above,midway] {cdev};
\draw[ag] (adbdev.north) |- ([yshift=-45pt]ucdev.north east) node[lb,above,pos=0.75] {cdev};
\draw[ag] ([yshift=-63pt]ucdev.north east) -| (ucdrv.north) node[lb,above,pos=0.25] {driver};
\draw[rdep] (ucdrv.east) -- (ucdrv.east -| audrv.west) node[sterr,above,midway] {\{ANDROID\}};
\draw[agT] (ucdev.south) |- ([yshift=-15pt]ucfg.north east) node[lb,above,pos=0.75] {config};
\draw[ag] ([yshift=-43pt]ucfg.north east) -| ([xshift=-1pt]ucdev.south east) node[lb,above,pos=0.25] {cdev};
\draw[agT] (ucfg.south) -- (ufn.north) node[lb,right,midway] {interface[]};
\draw[rdep] ([yshift=-15pt]ufn.north east) -- ([yshift=-15pt]ufn.north east -| afbind.west) node[sterr,above,pos=0.4] {\{ADB\}};
\draw[cp] (adbdev.west) -- (adbdev.west -| ufn.east) node[lb,above,pos=0.41] {function};
\draw[agT] ([yshift=14pt]adbdev.south west) -- ([yshift=14pt]adbdev.south west -| uep.east) node[lb,above,midway] {ep_out};
\draw[ag] (adbdev.south) |- ([yshift=-15pt]ureq.north east) node[lb,above,pos=0.75] {rx_req};
\draw[ag] ([yshift=15pt]adbdev.south east) -| (uepA.north) node[lb,above,pos=0.25] {ep_in};
\draw[agT] (file.west) -- (file.west -| adbdev.east) node[lb,above,midway] {private_data};
\draw[agT] (file.south) -- (fops.north) node[lb,right,midway] {f_op};
\draw[agT] (misc.north) -- (fops.south) node[lb,right,midway] {fops};
\draw[ag] (adev.south) -- (devA.north) node[lb,right,midway] {dev};
\draw[ag] (adev.east) -- (adev.east -| aufn.west) node[lb,above,midway] {functions[]};
\draw[ag] (aufn.north west) |- ([yshift=-16pt]ffs.north west);
\draw[ag] (aufn.north west) |- ([yshift=-16pt]mtp.north west);
\draw[ag] (aufn.north west) |- ([yshift=-16pt]msf.north west);
\draw[ag] (aufn.south west) |- ([yshift=-17pt]adbfn.north west);
\draw[ag] ([yshift=-17pt]adbfn.north east) -| (adbdata.north) node[lb,above,pos=0.25] {config};
\draw[rdep] ([yshift=12pt]adbfn.south west) -- ([yshift=14pt]afbind.south east) node[ster,pos=0.45] {\{SET\}};
\draw[ag] (audrv.south) |- ([yshift=-16pt]ddesc.north west) node[lb,above,pos=0.75] {dev};

\draw[ag] ([yshift=-16pt]dwc.north west) -| (dtrb.south) node[lb,above,pos=0.25] {ep0_trb};
\draw[cp] (dwc.south) -- (dep.north) node[lb,right,midway] {eps[]};
\draw[ag] (dreq.north) -- (dep.south) node[lb,right,pos=0.53] {dep};
\draw[cp] ([xshift=1pt]dep.south west) |- ([yshift=-16pt]uep.north west) node[lb,above,pos=0.75] {endpoint};
\draw[cp] (dreq.east) -- (dreq.east -| ureq.west) node[lb,above,midway] {request};
\draw[ag] (ugad.south west) |- ([yshift=-16pt]uepG.north west) node[lb,above,pos=0.75] {ep0};
\draw[ag] (ugad.south west) |- ([yshift=-30pt]uepG.north west) node[lb,above,pos=0.75] {ep_list};
\draw[ag] (ugad.south) -- (gops.north) node[lb,right,pos=0.45] {ops};
\draw[agT] ([yshift=11pt]ugad.south west) -| (uep.north) node[lb,above,pos=0.25] {ep_list};
\draw[bdep] (gops.south) -- (gops.south |- dgops.north) node[sterb,right,midway] {\{DWC3\}};
\draw[ag] (uepG.south) -- (uepG.south |- dep0ops.north) node[lb,right,pos=0.48] {ops};
\draw[ag] (uep.south) |- ([yshift=14pt]depops.south west) node[lb,above,pos=0.75] {ops};
\draw[bdep] (depops.east) -- ([xshift=-36pt]ureq.south) node[sterb,right,pos=0.62] {\{CREATE\}};
\end{tikzpicture}
\end{document}
